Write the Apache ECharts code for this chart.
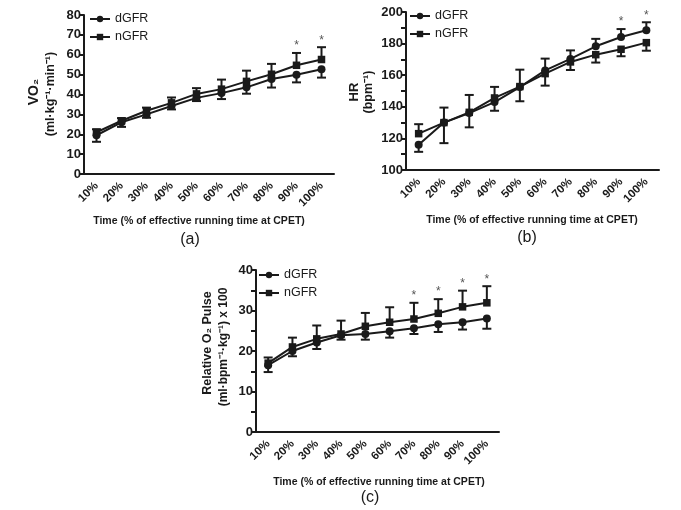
<!DOCTYPE html>
<html>
<head>
<meta charset="utf-8">
<script src="https://cdn.jsdelivr.net/npm/echarts@6/dist/echarts.min.js"></script>
<style>
  html, body { margin: 0; padding: 0; background: #fff; }
  #chart { width: 681px; height: 510px; }
</style>
</head>
<body>
<div id="chart"></div>
<script>
const categories = ['10%', '20%', '30%', '40%', '50%', '60%', '70%', '80%', '90%', '100%'];

// (a) VO2
const vo2D = [19.5, 26, 30, 34.2, 38.3, 40.7, 43.6, 47.8, 49.9, 52.7];
const vo2DErr = [3.3, 2.3, 1.7, 1.7, 1.6, 3, 3.2, 4.3, 3.8, 4.2];
const vo2N = [21, 26.8, 31.8, 35.8, 40.3, 42.7, 46.6, 50.2, 54.7, 57.6];
const vo2NErr = [1.5, 1.3, 1.6, 2.7, 2.9, 4.8, 5.4, 5.2, 6.2, 6.2];
const vo2Stars = ['90%', '100%'];

// (b) HR
const hrD = [116, 130, 136, 143, 152.5, 163, 170.3, 178.3, 184.2, 188.4];
const hrDErr = [4.5, 9.5, 9, 5.5, 9, 7.5, 5.4, 4.7, 5, 5.1];
const hrN = [123, 130, 136.5, 145.6, 152.8, 161, 168.4, 173, 176.4, 180.6];
const hrNErr = [6, 13, 11, 7, 10.7, 7.6, 5.1, 5, 4.4, 5.1];
const hrStars = ['90%', '100%'];

// (c) relative O2 pulse
const o2D = [16.5, 20, 22.1, 23.9, 24.2, 24.9, 25.6, 26.6, 27.1, 28];
const o2DErr = [1.7, 1.3, 1.6, 1.1, 1.4, 1.6, 1.4, 1.9, 1.8, 2.5];
const o2N = [17, 21, 23, 24.2, 26.1, 27.1, 27.9, 29.3, 30.9, 31.9];
const o2NErr = [1.4, 2.3, 3.3, 3.3, 3.3, 3.7, 4, 3.5, 4, 4.1];
const o2Stars = ['70%', '80%', '90%', '100%'];

const ink = '#1a1a1a';
const font = '"Liberation Sans", Arial, sans-serif';

const panels = [
  { d: vo2D, dErr: vo2DErr, n: vo2N, nErr: vo2NErr, stars: vo2Stars,
    grid: { left: 84, top: 15, width: 250, height: 159 },
    min: 0, max: 80, interval: 10, labelStep: 10,
    legend: { left: 89, top: 12 } },
  { d: hrD, dErr: hrDErr, n: hrN, nErr: hrNErr, stars: hrStars,
    grid: { left: 406, top: 12, width: 253, height: 158 },
    min: 100, max: 200, interval: 10, labelStep: 20,
    legend: { left: 409, top: 9 } },
  { d: o2D, dErr: o2DErr, n: o2N, nErr: o2NErr, stars: o2Stars,
    grid: { left: 256, top: 270, width: 243, height: 162 },
    min: 0, max: 40, interval: 5, labelStep: 10,
    legend: { left: 258, top: 268 } }
];

// error bar drawn away from the other group
function errorBars(g, vals, errs, other, winsTie) {
  return {
    type: 'custom', xAxisIndex: g, yAxisIndex: g, silent: true, z: 1,
    encode: { x: 0, y: 1 },
    data: vals.map((v, i) => {
      const up = winsTie ? v >= other[i] : v > other[i];
      return [i, v, up ? errs[i] : -errs[i]];
    }),
    renderItem: (params, api) => {
      const p = api.coord([api.value(0), api.value(1)]);
      const e = api.coord([api.value(0), api.value(1) + api.value(2)]);
      const st = { stroke: ink, lineWidth: 2 };
      return { type: 'group', children: [
        { type: 'line', shape: { x1: p[0], y1: p[1], x2: e[0], y2: e[1] }, style: st },
        { type: 'line', shape: { x1: e[0] - 4.5, y1: e[1], x2: e[0] + 4.5, y2: e[1] }, style: st }
      ] };
    }
  };
}

function starSeries(g, p) {
  const data = p.stars.map(c => {
    const i = categories.indexOf(c);
    const dTop = p.d[i] + (p.d[i] >= p.n[i] ? p.dErr[i] : 0);
    const nTop = p.n[i] + (p.n[i] > p.d[i] ? p.nErr[i] : 0);
    return [i, Math.max(dTop, nTop)];
  });
  return {
    type: 'custom', xAxisIndex: g, yAxisIndex: g, silent: true,
    encode: { x: 0, y: 1 },
    data: data,
    renderItem: (params, api) => {
      const c = api.coord([api.value(0), api.value(1)]);
      return { type: 'text', x: c[0], y: c[1] - 1,
        style: { text: '*', fill: '#555', font: '12px ' + font, align: 'center', verticalAlign: 'bottom' } };
    }
  };
}

const grids = [], xAxes = [], yAxes = [], legends = [], series = [];
panels.forEach((p, g) => {
  grids.push(p.grid);
  xAxes.push({
    type: 'category', gridIndex: g, data: categories, boundaryGap: true,
    axisLine: { lineStyle: { color: ink, width: 2 } },
    axisTick: { alignWithLabel: true, length: 5, lineStyle: { color: ink, width: 2 } },
    axisLabel: { rotate: 45, margin: 10, color: ink, fontSize: 11.5, fontWeight: 'bold', fontFamily: font, interval: 0 }
  });
  yAxes.push({
    type: 'value', gridIndex: g, min: p.min, max: p.max, interval: p.interval,
    axisLine: { show: true, lineStyle: { color: ink, width: 2 } },
    axisTick: { show: true, length: 5, lineStyle: { color: ink, width: 2 } },
    splitLine: { show: false },
    axisLabel: { margin: 3, color: ink, fontSize: 13, fontWeight: 'bold', fontFamily: font,
      formatter: v => (v % p.labelStep === 0 ? String(v) : '') }
  });
  legends.push({
    left: p.legend.left, top: p.legend.top, orient: 'vertical', padding: 0,
    itemWidth: 20, itemHeight: 8, itemGap: 4,
    data: ['dGFR', 'nGFR'],
    textStyle: { color: ink, fontSize: 12.5, fontFamily: font, lineHeight: 14 },
    selectedMode: false
  });
  series.push(errorBars(g, p.d, p.dErr, p.n, true));
  series.push(errorBars(g, p.n, p.nErr, p.d, false));
  series.push({
    name: 'dGFR', type: 'line', xAxisIndex: g, yAxisIndex: g, data: p.d,
    symbol: 'circle', symbolSize: 8, z: 3,
    lineStyle: { color: ink, width: 2 }, itemStyle: { color: ink }
  });
  series.push({
    name: 'nGFR', type: 'line', xAxisIndex: g, yAxisIndex: g, data: p.n,
    symbol: 'rect', symbolSize: 7.5, z: 3,
    lineStyle: { color: ink, width: 2 }, itemStyle: { color: ink }
  });
  series.push(starSeries(g, p));
});

function vText(x, y, text, size, weight) {
  return { type: 'text', x: x, y: y, rotation: Math.PI / 2,
    style: { text: text, fill: ink, font: weight + ' ' + size + 'px ' + font, align: 'center', verticalAlign: 'middle' } };
}
function hText(x, y, text, size, weight) {
  return { type: 'text', x: x, y: y,
    style: { text: text, fill: ink, font: weight + ' ' + size + 'px ' + font, align: 'center', verticalAlign: 'middle' } };
}
const xTitle = 'Time (% of effective running time at CPET)';

const chart = echarts.init(document.getElementById('chart'));
chart.setOption({
  backgroundColor: '#fff',
  animation: false,
  grid: grids,
  xAxis: xAxes,
  yAxis: yAxes,
  legend: legends,
  series: series,
  graphic: [
    vText(34, 92, 'VO₂', 14, 'bold'),
    vText(51, 94, '(ml·kg⁻¹·min⁻¹)', 12.5, 'bold'),
    vText(354, 92, 'HR', 13, 'bold'),
    vText(369, 92, '(bpm⁻¹)', 12.5, 'bold'),
    vText(208, 343, 'Relative O₂ Pulse', 12.5, 'bold'),
    vText(224, 347, '(ml·bpm⁻¹·kg⁻¹) x 100', 12, 'bold'),
    hText(199, 221, xTitle, 10.5, 'bold'),
    hText(532, 220, xTitle, 10.5, 'bold'),
    hText(379, 482, xTitle, 10.5, 'bold'),
    hText(190, 240, '(a)', 16, 'normal'),
    hText(527, 238, '(b)', 16, 'normal'),
    hText(370, 498, '(c)', 16, 'normal')
  ]
});
</script>
</body>
</html>
